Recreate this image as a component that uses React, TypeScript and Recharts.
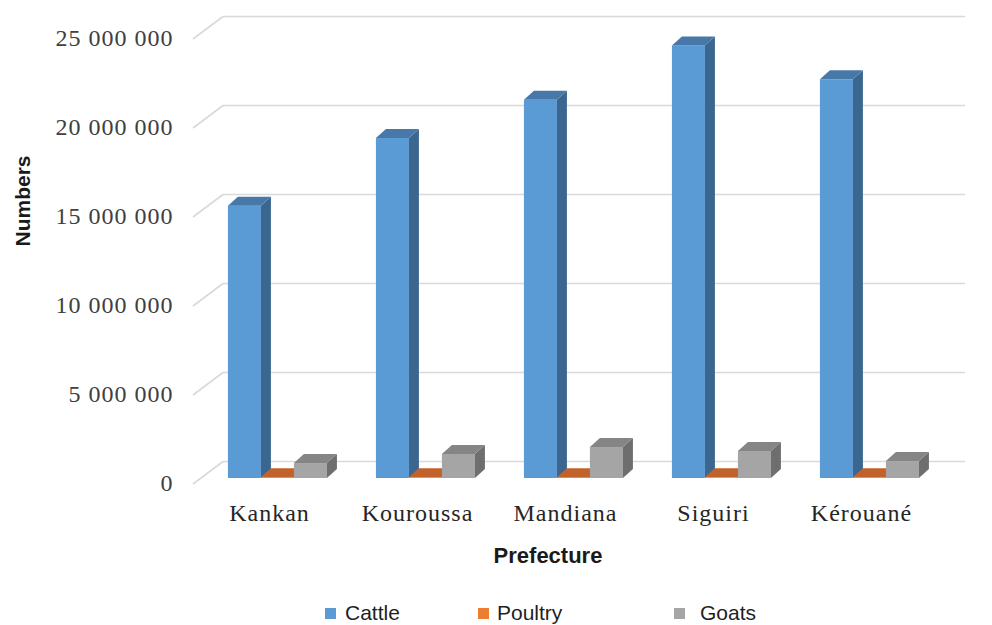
import { BarChart, Bar, XAxis, YAxis, CartesianGrid, Legend } from 'recharts';

// values
const prefectures = ['Kankan', 'Kouroussa', 'Mandiana', 'Siguiri', 'Kérouané'];
const cattle = [15300000, 19100000, 21250000, 24300000, 22400000];
const poultry = [42000, 38000, 45000, 36000, 40000];
const goats = [840000, 1350000, 1740000, 1520000, 950000];
const yTicks = [0, 5000000, 10000000, 15000000, 20000000, 25000000];

const W = 992;
const H = 625;
const PLOT_LEFT = 203.5;
const PLOT_RIGHT = 943.5;
const PLOT_TOP = 33;
const PLOT_BOTTOM = 478;
const Y_AXIS_W = 60;
const X_AXIS_H = 60;

// oblique offsets: front of the floor vs. the plane the bars stand in, and the back wall
const FRONT_DX = -10.5;
const FRONT_DY = 6;
const BACK_DX = 19.5;
const BACK_DY = -16.5;
const BACK_RIGHT = 965;

// bar depth
const DEPTH_X = 10;
const DEPTH_Y = 9;

const series = [
  { key: 'cattle', label: 'Cattle', front: '#5B9BD5', top: '#4878A8', side: '#3B6690', legend: '#5B9BD5' },
  { key: 'poultry', label: 'Poultry', front: '#ED7D31', top: '#C2622A', side: '#A8541F', legend: '#ED7D31' },
  { key: 'goats', label: 'Goats', front: '#A5A5A5', top: '#858585', side: '#6E6E6E', legend: '#A5A5A5' },
];

const chartData = prefectures.map((name, i) => ({
  name,
  cattle: cattle[i],
  poultry: poultry[i],
  goats: goats[i],
}));

const formatNumber = (v: number) => String(v).replace(/\B(?=(\d{3})+(?!\d))/g, ' ');

const SERIF = '"Liberation Serif", "Times New Roman", serif';
const SANS = '"Liberation Sans", Arial, sans-serif';

function makeBar3D(colors: { front: string; top: string; side: string }) {
  return (props: any) => {
    const { x, y, width, height } = props;
    if (x == null || y == null) return null;
    const h = Math.max(0, height || 0);
    const w = width;
    const top = `${x},${y} ${x + DEPTH_X},${y - DEPTH_Y} ${x + w + DEPTH_X},${y - DEPTH_Y} ${x + w},${y}`;
    const side = `${x + w},${y} ${x + w + DEPTH_X},${y - DEPTH_Y} ${x + w + DEPTH_X},${y + h - DEPTH_Y} ${x + w},${y + h}`;
    return (
      <g>
        <rect x={x} y={y} width={w} height={h} fill={colors.front} />
        <polygon points={side} fill={colors.side} />
        <polygon points={top} fill={colors.top} />
      </g>
    );
  };
}

// each horizontal grid line becomes a diagonal on the side wall plus a line on the back wall
const GridLine = (props: any) => {
  const { y1, index } = props;
  const y = y1;
  return (
    <g key={`grid-${index}`}>
      <line
        x1={PLOT_LEFT + FRONT_DX}
        y1={y + FRONT_DY}
        x2={PLOT_LEFT + BACK_DX}
        y2={y + BACK_DY}
        stroke="#D9D9D9"
        strokeWidth={1.6}
      />
      <line
        x1={PLOT_LEFT + BACK_DX}
        y1={y + BACK_DY}
        x2={BACK_RIGHT}
        y2={y + BACK_DY}
        stroke="#D9D9D9"
        strokeWidth={1.6}
      />
    </g>
  );
};

const YTick = (props: any) => {
  const { y, payload } = props;
  return (
    <text
      x={PLOT_LEFT - 30}
      y={y + 5}
      textAnchor="end"
      dominantBaseline="central"
      fontFamily={SERIF}
      fontSize={24}
      letterSpacing={1}
      fill="#404040"
    >
      {formatNumber(payload.value)}
    </text>
  );
};

const XTick = (props: any) => {
  const { x, payload } = props;
  return (
    <text
      x={x - 8}
      y={PLOT_BOTTOM + 43}
      textAnchor="middle"
      fontFamily={SERIF}
      fontSize={24}
      letterSpacing={1}
      fill="#262626"
    >
      {payload.value}
    </text>
  );
};

const legendLeft: Record<string, number> = { Cattle: 325, Poultry: 478, Goats: 674 };

const renderLegend = () => (
  <div style={{ position: 'relative', width: W, height: 26 }}>
    {series.map((s) => (
      <div
        key={s.key}
        style={{
          position: 'absolute',
          left: legendLeft[s.label],
          top: 0,
          height: 26,
          display: 'flex',
          alignItems: 'center',
          fontFamily: SANS,
          fontSize: 21,
          color: '#1F1F1F',
          whiteSpace: 'nowrap',
        }}
      >
        <span
          style={{
            display: 'inline-block',
            width: 11,
            height: 11,
            background: s.legend,
            marginRight: s.label === 'Goats' ? 15 : s.label === 'Poultry' ? 8 : 9,
          }}
        />
        {s.label}
      </div>
    ))}
  </div>
);

export default function App() {
  return (
    <div style={{ position: 'absolute', left: 0, top: 0, width: W, height: H, background: '#fff' }}>
      <BarChart
        width={W}
        height={H}
        data={chartData}
        margin={{
          top: PLOT_TOP,
          right: W - PLOT_RIGHT,
          bottom: H - PLOT_BOTTOM - X_AXIS_H,
          left: PLOT_LEFT - Y_AXIS_W,
        }}
        barCategoryGap="16.5%"
        barGap={0}
      >
        <CartesianGrid vertical={false} horizontal={GridLine} />
        <XAxis
          dataKey="name"
          axisLine={false}
          tickLine={false}
          interval={0}
          height={X_AXIS_H}
          tick={<XTick />}
          label={{
            content: () => (
              <text
                x={548}
                y={555}
                textAnchor="middle"
                dominantBaseline="central"
                fontFamily={SANS}
                fontWeight="bold"
                fontSize={22}
                fill="#1A1A1A"
              >
                Prefecture
              </text>
            ),
          }}
        />
        <YAxis
          width={Y_AXIS_W}
          domain={[0, 25000000]}
          ticks={yTicks}
          axisLine={false}
          tickLine={false}
          tick={<YTick />}
          label={{
            content: () => (
              <text
                x={22}
                y={201}
                transform="rotate(-90 22 201)"
                textAnchor="middle"
                dominantBaseline="central"
                fontFamily={SANS}
                fontWeight="bold"
                fontSize={21}
                fill="#1A1A1A"
              >
                Numbers
              </text>
            ),
          }}
        />
        <Legend
          layout="horizontal"
          verticalAlign="middle"
          wrapperStyle={{ top: 600, left: 0, width: W }}
          content={renderLegend}
        />
        {series.map((s) => (
          <Bar
            key={s.key}
            dataKey={s.key}
            name={s.label}
            fill={s.front}
            shape={makeBar3D(s)}
            isAnimationActive={false}
          />
        ))}
      </BarChart>
    </div>
  );
}
